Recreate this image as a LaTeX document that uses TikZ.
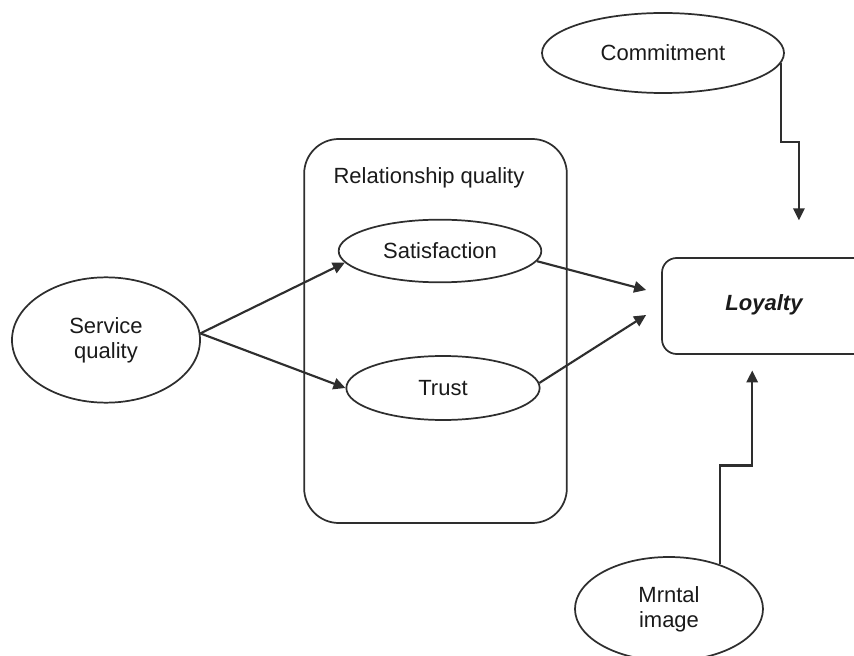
\documentclass[tikz,border=0pt]{standalone}
\usepackage{fontspec}
\setmainfont{Liberation Sans}
\usetikzlibrary{shapes.geometric,arrows.meta,calc}
\definecolor{linec}{HTML}{2E2E2E}
\definecolor{txtc}{HTML}{1A1A1A}
\tikzset{
  lbl/.style={font=\fontsize{16.5}{19}\selectfont, text=txtc, align=center},
  oval/.style={ellipse, draw=linec, line width=1.3pt, inner sep=0pt, lbl},
  arr/.style={draw=linec, line width=1.6pt, -{Triangle[length=9pt,width=8.5pt]}},
}
\begin{document}
\begin{tikzpicture}[x=0.75pt,y=-0.75pt]
\useasboundingbox (0,0) rectangle (854,656);
\clip (0,0) rectangle (854,656);
% relationship box
\node[draw=linec, line width=1.3pt, rounded corners=26pt, minimum width=197pt, minimum height=288pt, inner sep=0pt] (rq) at (435.5,331) {};
\node[lbl] (rqlabel) at (429,178) {Relationship quality};
% ellipses
\node[oval, minimum width=181.5pt, minimum height=60pt] (com) at (663,53) {Commitment};
\node[oval, minimum width=152pt, minimum height=47pt] (sat) at (440,251) {Satisfaction};
\node[oval, minimum width=145pt, minimum height=48pt] (tr) at (443,388) {Trust};
\node[oval, minimum width=141pt, minimum height=94pt] (sq) at (106,340) {Service\\quality};
\node[oval, minimum width=141pt, minimum height=78pt] (mi) at (669,609) {Mrntal\\image};
% loyalty box
\node[draw=linec, line width=1.3pt, rounded corners=11pt, minimum width=156pt, minimum height=72pt, inner sep=0pt] (loy) at (766,306) {};
\node[lbl, font=\fontsize{16.5}{19}\selectfont\bfseries\itshape] (loytext) at (764,305) {Loyalty};
% connectors
\draw[arr] (sq.4) -- (sat.187);
\draw[arr] (sq.4) -- (tr.west);
\draw[arr] (sat.354) -- ($(loy.west)+(-15,-16)$);
\draw[arr] (tr.3) -- ($(loy.west)+(-15,9)$);
\draw[arr] (com.355) -- ++(0,79) -- ++(18,0) -- ++(0,78);
\draw[arr] (mi.41) -- ++(0,-99) -- ++(32,0) -- ++(0,-95);
\end{tikzpicture}
\end{document}
